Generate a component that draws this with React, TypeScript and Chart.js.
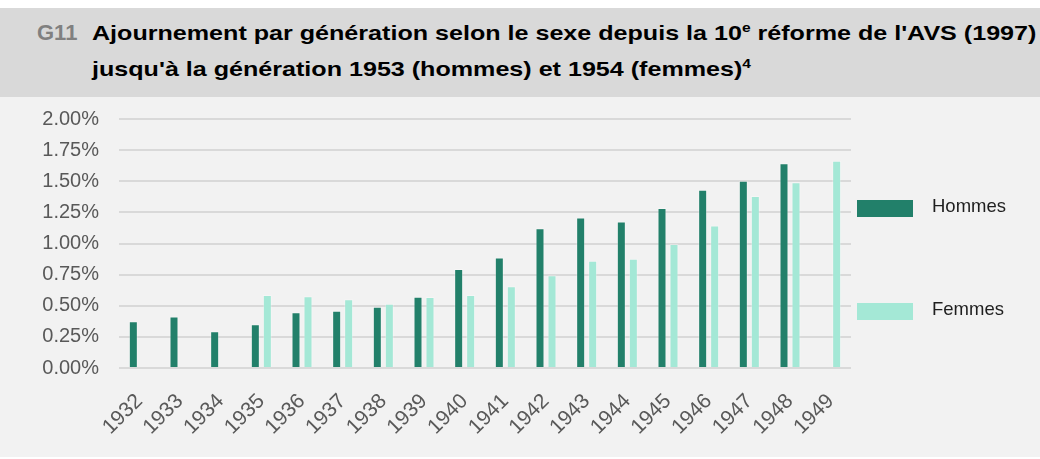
import React, { useEffect, useRef } from "react";
import { Chart, registerables } from "chart.js";

Chart.register(...registerables);

const categories = ["1932", "1933", "1934", "1935", "1936", "1937", "1938", "1939", "1940", "1941", "1942", "1943", "1944", "1945", "1946", "1947", "1948", "1949"];
const hommes = [0.376, 0.413, 0.296, 0.352, 0.448, 0.459, 0.491, 0.573, 0.795, 0.888, 1.123, 1.208, 1.176, 1.285, 1.432, 1.504, 1.645, null];
const femmes = [null, null, null, 0.587, 0.576, 0.552, 0.517, 0.571, 0.587, 0.656, 0.744, 0.861, 0.877, 0.995, 1.144, 1.381, 1.491, 1.664];
const seriesLabels = ["Hommes", "Femmes"];
const seriesColors = ["#22806a", "#a4e8d6"];
const yMin = 0;
const yMax = 2;
const yStep = 0.25;

const FONT = '"Liberation Sans", Arial, Helvetica, sans-serif';

const sideLegend = {
  id: "sideLegend",
  afterDraw(chart: any) {
    const { ctx, chartArea } = chart;
    chart.data.datasets.forEach((ds: any, i: number) => {
      const x = chartArea.right + 6;
      const y = chartArea.top + 81 + i * 103;
      ctx.save();
      ctx.fillStyle = ds.backgroundColor;
      ctx.fillRect(x, y, 56, 17);
      ctx.fillStyle = "#1f1f1f";
      ctx.font = "18.5px " + FONT;
      ctx.textBaseline = "middle";
      ctx.textAlign = "left";
      ctx.fillText(ds.label, x + 75, y + 7);
      ctx.restore();
    });
  },
};

export default function App() {
  const canvasRef = useRef<HTMLCanvasElement | null>(null);

  useEffect(() => {
    if (!canvasRef.current) return;
    const chart = new Chart(canvasRef.current, {
      type: "bar",
      data: {
        labels: categories,
        datasets: [
          {
            label: seriesLabels[0],
            data: hommes,
            backgroundColor: seriesColors[0],
            borderColor: "rgba(255,255,255,0.3)",
            borderWidth: 1,
            categoryPercentage: 0.59,
            barPercentage: 0.75,
          },
          {
            label: seriesLabels[1],
            data: femmes,
            backgroundColor: seriesColors[1],
            borderColor: "rgba(255,255,255,0.3)",
            borderWidth: 1,
            categoryPercentage: 0.59,
            barPercentage: 0.75,
          },
        ],
      },
      options: {
        animation: false,
        responsive: true,
        maintainAspectRatio: false,
        layout: { padding: { top: 11, right: 189, bottom: 0, left: 0 } },
        plugins: {
          legend: { display: false },
          tooltip: { enabled: false },
        },
        scales: {
          x: {
            grid: { display: false },
            border: { display: false },
            ticks: {
              color: "#595959",
              font: { family: FONT, size: 21 },
              minRotation: 45,
              maxRotation: 45,
              autoSkip: false,
              padding: 13,
            },
            afterFit: (scale: any) => {
              scale.height = 89;
            },
          },
          y: {
            min: yMin,
            max: yMax,
            grid: { color: "#d9d9d9", lineWidth: 2, drawTicks: false },
            border: { display: false },
            ticks: {
              stepSize: yStep,
              color: "#595959",
              font: { family: FONT, size: 20 },
              padding: 20,
              callback: (v: any) => Number(v).toFixed(2) + "%",
            },
            afterFit: (scale: any) => {
              scale.width = 119;
            },
          },
        },
      },
      plugins: [sideLegend],
    });
    return () => chart.destroy();
  }, []);

  const sup: React.CSSProperties = { fontSize: 13, position: "relative", top: -8 };

  return (
    <div style={{ position: "absolute", left: 0, top: 0, width: 1040, height: 459, background: "#ffffff", overflow: "hidden" }}>
      <div
        style={{
          position: "absolute",
          left: 0,
          top: 8,
          width: 1040,
          height: 89,
          background: "#d9d9d9",
          fontFamily: FONT,
          fontWeight: "bold",
          fontSize: 21,
          lineHeight: "33px",
          whiteSpace: "nowrap",
        }}
      >
        <div style={{ position: "absolute", left: 37, top: 8, color: "#808080", fontSize: 22 }}>G11</div>
        <div style={{ position: "absolute", left: 92, top: 8, color: "#000000", transform: "scaleX(1.195)", transformOrigin: "left top" }}>
          Ajournement par génération selon le sexe depuis la 10<span style={sup}>e</span> réforme de l'AVS (1997)
          <br />
          jusqu'à la génération 1953 (hommes) et 1954 (femmes)<span style={sup}>4</span>
        </div>
      </div>
      <div style={{ position: "absolute", left: 0, top: 97, width: 1040, height: 360, background: "#f2f2f2" }} />
      <div style={{ position: "absolute", left: 0, top: 87, width: 1040, height: 370 }}>
        <canvas ref={canvasRef} />
      </div>
    </div>
  );
}
